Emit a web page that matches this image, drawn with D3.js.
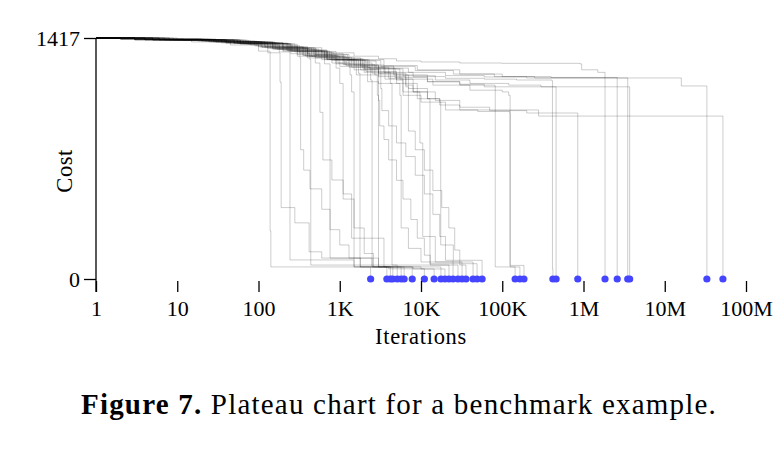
<!DOCTYPE html>
<html><head><meta charset="utf-8">
<script src="https://cdn.jsdelivr.net/npm/d3@7"></script>
<style>html,body{margin:0;padding:0;background:#fff;}</style>
</head><body>
<svg id="chart" width="777" height="461"></svg>
<script>
// Tick values and labels
const xTicks = [1, 1e1, 1e2, 1e3, 1e4, 1e5, 1e6, 1e7, 1e8];
const xTickLabels = ["1", "10", "100", "1K", "10K", "100K", "1M", "10M", "100M"];
const yTicks = [0, 1417];
const yTickLabels = ["0", "1417"];

// Runs: [iteration, cost] breakpoints (step after)
const run01 = [[1,1417],[3,1405],[15,1394],[45,1376],[100,1340],[139,282],[142,71],[2400,0]];
const run02 = [[1,1417],[2,1411],[20,1400],[80,1376],[180,1335],[244,112],[1500,71],[3800,0]];
const run03 = [[1,1417],[5,1405],[40,1385],[130,1330],[184,1158],[190,420],[280,330],[420,160],[600,123],[1800,71],[4200,0]];
const run04 = [[1,1417],[3,1411],[30,1394],[150,1350],[324,1300],[330,760],[360,640],[430,530],[600,410],[760,290],[1000,200],[1300,123],[2500,71],[4500,0]];
const run05 = [[1,1417],[8,1405],[60,1380],[250,1325],[430,1290],[440,82],[5100,0]];
const run06 = [[1,1417],[4,1405],[25,1394],[110,1365],[300,1310],[500,1270],[570,980],[620,700],[800,582],[1100,470],[1500,300],[2000,150],[2600,71],[5700,0]];
const run07 = [[1,1417],[6,1408],[50,1385],[200,1340],[650,1265],[760,123],[3000,71],[6200,0]];
const run08 = [[1,1417],[3,1405],[35,1388],[150,1355],[400,1300],[900,1240],[1000,1150],[1100,500],[1400,240],[3500,71],[7800,0]];
const run09 = [[1,1417],[2,1411],[18,1399],[90,1370],[300,1320],[800,1270],[1340,1200],[1400,1100],[1500,71],[4000,60],[11000,0]];
const run10 = [[1,1417],[10,1405],[70,1382],[260,1340],[700,1290],[1700,1210],[1775,71],[8000,59],[14500,0]];
const run11 = [[1,1417],[4,1408],[40,1390],[170,1350],[500,1300],[1300,1245],[2400,1170],[2500,71],[17600,0]];
const run12 = [[1,1417],[7,1405],[55,1385],[230,1340],[650,1290],[1600,1200],[2900,1080],[3000,71],[10000,59],[19700,0]];
const run13 = [[1,1417],[3,1408],[28,1394],[120,1360],[380,1310],[1000,1250],[2200,1160],[3000,1050],[3100,900],[3500,820],[4000,700],[5000,580],[6000,470],[7500,350],[9000,240],[11000,140],[13000,82],[22100,0]];
const run14 = [[1,1417],[5,1405],[45,1388],[200,1345],[600,1290],[1500,1230],[3200,1120],[3300,990],[4000,900],[5000,800],[6500,720],[8500,610],[11000,500],[14000,380],[17000,250],[20000,110],[24800,0]];
const run15 = [[1,1417],[2,1411],[22,1397],[100,1365],[350,1315],[900,1265],[2000,1215],[4200,1150],[4400,82],[28500,0]];
const run16 = [[1,1417],[6,1405],[60,1385],[240,1340],[700,1290],[1800,1230],[3000,1150],[5500,1080],[5700,300],[7000,180],[10000,100],[32000,0]];
const run17 = [[1,1417],[3,1408],[32,1394],[140,1358],[450,1310],[1200,1255],[3000,1190],[6500,1130],[7000,870],[8500,760],[11000,640],[14000,520],[18000,420],[22000,300],[26000,170],[30000,82],[35800,0]];
const run18 = [[1,1417],[8,1405],[65,1383],[280,1335],[800,1285],[2100,1220],[5000,1150],[9000,1100],[9700,800],[10500,250],[15000,100],[43700,0]];
const run19 = [[1,1417],[4,1408],[38,1392],[160,1352],[520,1302],[1400,1245],[3600,1175],[8000,1100],[12000,1060],[12900,90],[49000,0]];
const run20 = [[1,1417],[2,1411],[26,1396],[110,1362],[400,1310],[1100,1260],[2700,1200],[7000,1120],[12000,1060],[17100,1040],[17500,200],[25000,110],[56500,0]];
const run21 = [[1,1417],[5,1405],[50,1386],[220,1345],[680,1295],[1900,1240],[4800,1185],[12000,1160],[30000,1140],[81000,1135],[82000,71],[144000,0]];
const run22 = [[1,1417],[3,1408],[30,1394],[130,1356],[420,1310],[1150,1260],[3000,1210],[5000,1170],[6000,1080],[10000,1040],[20000,994],[50000,985],[124000,976],[125000,71],[165000,0]];
const run23 = [[1,1417],[7,1405],[58,1384],[250,1340],[750,1292],[2000,1235],[5500,1175],[14000,1140],[40000,1110],[100000,1100],[120000,1080],[125000,80],[185000,0]];
const run24 = [[1,1417],[4,1406],[42,1390],[180,1352],[550,1306],[1500,1258],[3500,1215],[8000,1190],[20000,1180],[60000,1175],[150000,1170],[410000,1165],[415000,60],[420000,0]];
const run25 = [[1,1417],[9,1404],[75,1380],[300,1338],[900,1290],[2300,1236],[6000,1195],[15000,1170],[40000,1150],[120000,1140],[300000,1130],[460000,0]];
const run26 = [[1,1417],[3,1410],[24,1396],[105,1365],[360,1315],[950,1270],[2500,1210],[6500,1140],[8000,1100],[15000,1050],[30000,1010],[70000,990],[200000,976],[850000,0]];
const run27 = [[1,1417],[2,1412],[12,1402],[50,1390],[200,1360],[600,1330],[1500,1310],[3000,1295],[5000,1282],[10000,1276],[30000,1270],[100000,1268],[900000,1265],[950000,1230],[1500000,1215],[1840000,0]];
const run28 = [[1,1417],[5,1406],[40,1392],[160,1360],[500,1320],[1300,1290],[3500,1255],[9000,1230],[30000,1205],[100000,1190],[400000,1185],[2600000,0]];
const run29 = [[1,1417],[3,1409],[28,1396],[120,1366],[400,1326],[1100,1282],[2800,1240],[7000,1215],[20000,1196],[60000,1188],[200000,1182],[3500000,0]];
const run30 = [[1,1417],[6,1405],[55,1386],[230,1346],[700,1300],[1800,1252],[4600,1200],[12000,1160],[30000,1145],[60000,1130],[3700000,0]];
const run31 = [[1,1417],[4,1407],[36,1393],[150,1358],[480,1318],[1250,1284],[3200,1250],[8500,1226],[25000,1205],[80000,1190],[250000,1182],[16000000,1135],[33000000,0]];
const run32 = [[1,1417],[2,1411],[20,1398],[95,1372],[320,1330],[850,1288],[2200,1245],[4000,1180],[6000,1100],[9000,1060],[17000,1023],[30000,994],[280000,958],[52000000,0]];

const runs = [run01,run02,run03,run04,run05,run06,run07,run08,run09,run10,run11,run12,run13,run14,run15,run16,
              run17,run18,run19,run20,run21,run22,run23,run24,run25,run26,run27,run28,run29,run30,run31,run32];

const svg = d3.select("#chart");
const x = d3.scaleLog().domain([1, 1e8]).range([96, 746]);
const y = d3.scaleLinear().domain([0, 1417]).range([279, 38]);
const serif = "'Liberation Serif', 'DejaVu Serif', serif";

// Traces
const line = d3.line().x(d => x(d[0])).y(d => y(d[1])).curve(d3.curveStepAfter);
svg.append("g").selectAll("path").data(runs).join("path")
  .attr("d", line)
  .attr("fill", "none")
  .attr("stroke", "#000")
  .attr("stroke-opacity", 0.2)
  .attr("stroke-width", 1);

// End points
svg.append("g").selectAll("circle").data(runs).join("circle")
  .attr("cx", d => x(d[d.length - 1][0]))
  .attr("cy", d => y(d[d.length - 1][1]))
  .attr("r", 3.6)
  .attr("fill", "#4545ff");

// Y axis
const yAxis = d3.axisLeft(y).tickValues(yTicks).tickFormat((d, i) => yTickLabels[i]).tickSize(12).tickPadding(4);
const gy = svg.append("g").attr("transform", "translate(96,0)").call(yAxis);
gy.select(".domain").remove();
gy.append("line").attr("x1", 0).attr("x2", 0).attr("y1", 38).attr("y2", 292).attr("stroke", "#000").attr("stroke-width", 1.3);
gy.selectAll(".tick line").attr("stroke-width", 1.3);
gy.selectAll(".tick text").attr("font-family", serif).attr("font-size", 22).attr("fill", "#000");

// X axis
const xAxis = d3.axisBottom(x).tickValues(xTicks).tickFormat((d, i) => xTickLabels[i]).tickSize(11).tickPadding(8);
const gx = svg.append("g").attr("transform", "translate(0,281)").call(xAxis);
gx.select(".domain").remove();
gx.selectAll(".tick line").attr("stroke-width", 1.3);
gx.selectAll(".tick text").attr("font-family", serif).attr("font-size", 22).attr("fill", "#000");

// Axis titles
svg.append("text").attr("x", 421).attr("y", 344).attr("text-anchor", "middle")
  .attr("font-family", serif).attr("font-size", 22.5).attr("letter-spacing", 0.7).text("Iterations");
svg.append("text").attr("transform", "translate(72,171) rotate(-90)").attr("text-anchor", "middle")
  .attr("font-family", serif).attr("font-size", 22.5).attr("letter-spacing", 0.5).text("Cost");

// Caption
const cap = svg.append("text").attr("x", 399).attr("y", 414).attr("text-anchor", "middle")
  .attr("font-family", serif).attr("font-size", 29).attr("letter-spacing", 1.2);
cap.append("tspan").attr("font-weight", "bold").text("Figure 7.");
cap.append("tspan").text(" Plateau chart for a benchmark example.");
</script>
</body></html>
